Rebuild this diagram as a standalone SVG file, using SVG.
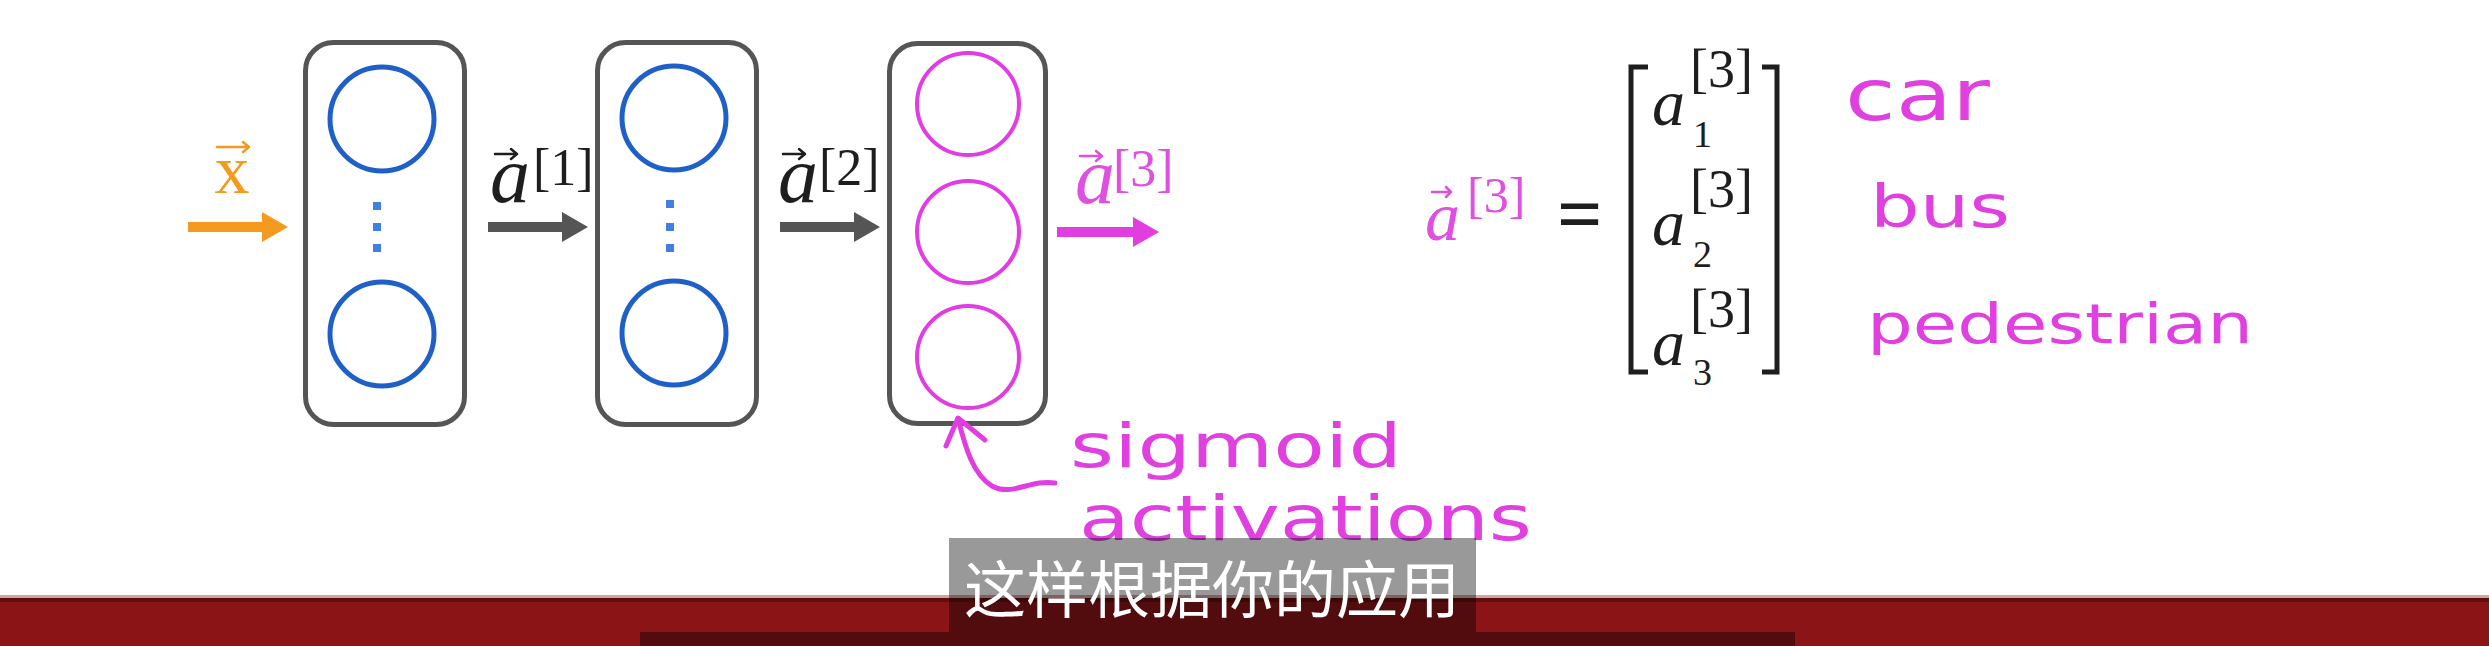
<svg xmlns="http://www.w3.org/2000/svg" width="2489" height="646" viewBox="0 0 2489 646">
<style>
.box{fill:none;stroke:#555;stroke-width:5}
.bc{fill:none;stroke:#1f5fc8;stroke-width:5}
.pc{fill:none;stroke:#e03ee0;stroke-width:4}
.dot{fill:#3f80e0}
.m{font-family:"Liberation Serif",serif;fill:#1e1e1e}
.mi{font-family:"Liberation Serif",serif;font-style:italic;fill:#1e1e1e}
.pk{fill:#e050e0}
.hw{font-family:"DejaVu Sans",sans-serif;fill:#e040e0}
.vec{fill:none;stroke-width:2.5;stroke-linecap:round;stroke-linejoin:round}
</style>
<rect width="2489" height="646" fill="#ffffff"/>

<g id="layer1">
<rect class="box" x="305.5" y="42.5" width="159" height="382" rx="28"/>
<circle class="bc" cx="382" cy="119" r="52"/>
<circle class="bc" cx="382" cy="334" r="52"/>
<rect class="dot" x="373" y="202" width="8" height="8"/>
<rect class="dot" x="373" y="223" width="8" height="8"/>
<rect class="dot" x="373" y="244" width="8" height="8"/>
</g>

<g id="layer2">
<rect class="box" x="597.5" y="42.5" width="159" height="382" rx="28"/>
<circle class="bc" cx="674" cy="118" r="52"/>
<circle class="bc" cx="674" cy="333" r="52"/>
<rect class="dot" x="666" y="200" width="8" height="8"/>
<rect class="dot" x="666" y="223" width="8" height="8"/>
<rect class="dot" x="666" y="244" width="8" height="8"/>
</g>

<g id="layer3">
<rect class="box" x="889.5" y="43.5" width="156" height="380" rx="28"/>
<circle class="pc" cx="968" cy="104" r="51"/>
<circle class="pc" cx="968" cy="232" r="51"/>
<circle class="pc" cx="968" cy="357" r="51"/>
</g>

<g id="connectors">
<polygon fill="#f39a1f" points="188,222 262,222 262,212 288,227 262,242 262,232 188,232"/>
<polygon fill="#555555" points="488,222 562,222 562,212 588,227 562,242 562,232 488,232"/>
<polygon fill="#555555" points="780,222 854,222 854,212 880,227 854,242 854,232 780,232"/>
<polygon fill="#e03ee0" points="1057,227 1133,227 1133,217 1159,232 1133,247 1133,237 1057,237"/>
<path d="M1055,483 C1030,479 1012,497 992,486 C972,474 965,445 958,419" fill="none" stroke="#e03ee0" stroke-width="5" stroke-linecap="round"/>
<path d="M946,446 L958,418 L985,440" fill="none" stroke="#e03ee0" stroke-width="5" stroke-linecap="round" stroke-linejoin="round"/>
</g>

<g id="label-x">
<text x="232" y="193" text-anchor="middle" font-family="Liberation Serif,serif" font-size="70" fill="#f39a1f">x</text>
<path class="vec" stroke="#f39a1f" d="M217,147 H249 M243,142 L249,147 L243,152"/>
</g>

<g id="label-a1">
<text class="mi" x="490" y="202" font-size="80">a</text>
<text class="m" x="533" y="185" font-size="52">[1]</text>
<path class="vec" stroke="#1e1e1e" d="M495,154 H517 M511,149 L517,154 L511,159"/>
</g>

<g id="label-a2">
<text class="mi" x="778" y="202" font-size="80">a</text>
<text class="m" x="819" y="185" font-size="52">[2]</text>
<path class="vec" stroke="#1e1e1e" d="M783,154 H805 M799,149 L805,154 L799,159"/>
</g>

<g id="label-a3">
<text class="mi pk" x="1075" y="203" font-size="80">a</text>
<text class="m pk" x="1113" y="186" font-size="52">[3]</text>
<path class="vec" stroke="#e050e0" d="M1080,156 H1102 M1096,151 L1102,156 L1096,161"/>
</g>

<g id="sigmoid-note">
<text class="hw" x="1070" y="467" font-size="60" textLength="332" lengthAdjust="spacingAndGlyphs">sigmoid</text>
<text class="hw" x="1079" y="540" font-size="62" textLength="453" lengthAdjust="spacingAndGlyphs">activations</text>
</g>

<g id="equation">
<text class="mi pk" x="1425" y="240" font-size="70">a</text>
<path class="vec" stroke="#e050e0" d="M1432,192 H1451 M1446,187 L1451,192 L1446,197"/>
<text class="m pk" x="1467" y="212" font-size="50">[3]</text>
<text class="m" x="1557" y="241" font-size="80" font-weight="bold">=</text>
<path d="M1648,67 H1631 V372 H1648" fill="none" stroke="#1e1e1e" stroke-width="5"/>
<path d="M1762,67 H1777 V372 H1762" fill="none" stroke="#1e1e1e" stroke-width="5"/>
<text class="mi" x="1652" y="125" font-size="66">a</text>
<text class="m" x="1693" y="147" font-size="38">1</text>
<text class="m" x="1690" y="87" font-size="54">[3]</text>
<text class="mi" x="1652" y="245" font-size="66">a</text>
<text class="m" x="1693" y="267" font-size="38">2</text>
<text class="m" x="1690" y="207" font-size="54">[3]</text>
<text class="mi" x="1652" y="365" font-size="66">a</text>
<text class="m" x="1693" y="385" font-size="38">3</text>
<text class="m" x="1690" y="327" font-size="54">[3]</text>
</g>

<g id="classes">
<text class="hw" x="1845" y="120" font-size="72" textLength="145" lengthAdjust="spacingAndGlyphs">car</text>
<text class="hw" x="1870" y="227" font-size="58" textLength="140" lengthAdjust="spacingAndGlyphs">bus</text>
<text class="hw" x="1867" y="343" font-size="56" textLength="386" lengthAdjust="spacingAndGlyphs">pedestrian</text>
</g>

<g id="footer">
<rect x="0" y="595" width="2489" height="3" fill="#d9a0a0"/>
<rect x="0" y="598" width="2489" height="4" fill="#5e1010"/>
<rect x="0" y="602" width="2489" height="44" fill="#8b1516"/>
<rect x="949" y="538" width="527" height="94" fill="#000000" fill-opacity="0.4"/>
<rect x="640" y="632" width="1155" height="14" fill="#000000" fill-opacity="0.4"/>
<text x="1212" y="613" text-anchor="middle" font-family="Noto Sans CJK SC,sans-serif" font-size="62" fill="#ffffff">这样根据你的应用</text>
</g>
</svg>
